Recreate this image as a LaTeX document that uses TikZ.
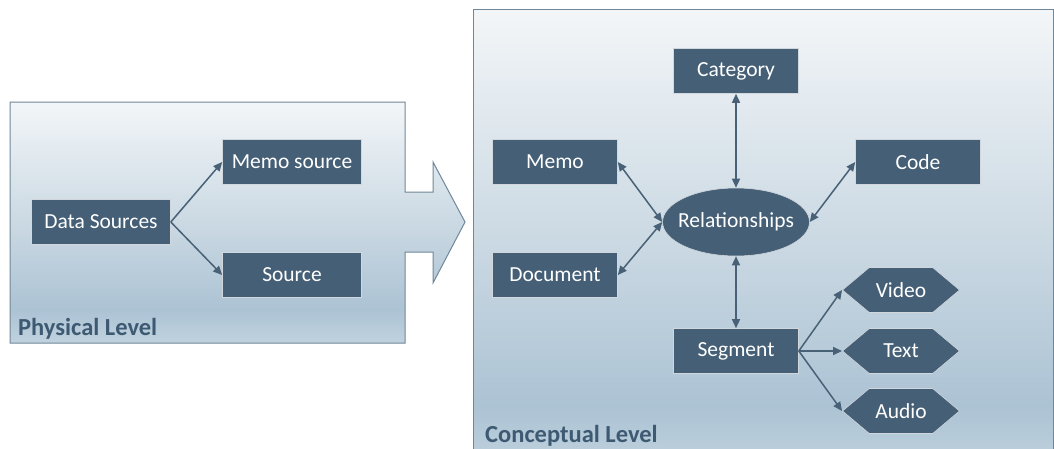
\documentclass[tikz,border=0pt]{standalone}
\usepackage{fontspec}
\setmainfont{Carlito}
\usetikzlibrary{positioning, arrows.meta, shapes.geometric, shapes.symbols}
\definecolor{boxcolor}{RGB}{69,95,118}
\definecolor{linecolor}{RGB}{72,97,118}
\definecolor{framecolor}{RGB}{112,135,153}
\definecolor{labelcolor}{RGB}{62,90,114}
\definecolor{shadetop}{RGB}{243,246,248}
\definecolor{shademid}{RGB}{203,217,227}
\definecolor{shadebot}{RGB}{172,195,212}
\definecolor{shadelow}{RGB}{192,210,222}
\pgfdeclareverticalshading{levelshade}{100bp}{color(0bp)=(shadelow); color(25bp)=(shadelow); color(32bp)=(shadebot); color(50bp)=(shademid); color(75bp)=(shadetop); color(100bp)=(shadetop)}

\tikzset{
    entity/.style={rectangle, fill=boxcolor, draw=white!75!boxcolor, line width=0.6pt, text=white,
        font=\fontsize{21.5}{25}\selectfont, minimum width=125pt, minimum height=45pt, inner sep=0pt},
    relation/.style={ellipse, fill=boxcolor, draw=white!75!boxcolor, line width=0.6pt, text=white,
        font=\fontsize{21.5}{25}\selectfont, minimum width=142pt, minimum height=68pt,
        inner ysep=0pt, inner xsep=-6pt},
    media/.style={signal, signal to=east and west, signal pointer angle=80, fill=boxcolor,
        draw=white!75!boxcolor, line width=0.6pt, text=white, font=\fontsize{21.5}{25}\selectfont,
        minimum width=117pt, minimum height=45pt, inner sep=0pt},
    levellabel/.style={text=labelcolor, font=\fontsize{24.5}{28}\selectfont\bfseries, inner sep=0pt},
    link/.style={draw=linecolor, line width=1.5pt, -{Triangle[length=9pt, width=8pt]}},
    biLink/.style={draw=linecolor, line width=1.5pt, {Triangle[length=9pt, width=8pt]}-{Triangle[length=9pt, width=8pt]}}
}

\begin{document}
\begin{tikzpicture}[x=1pt, y=-1pt]
    \useasboundingbox (0,0) rectangle (1054,448);
    \clip (0,0) rectangle (1054,448);

    % Niveau physique, avec la grosse flèche
    \shadedraw[shading=levelshade, draw=framecolor, line width=1pt]
        (10,102) -- (405,102) -- (405,192) -- (433,192) -- (433,162) -- (465,222)
        -- (433,283) -- (433,252) -- (405,252) -- (405,343) -- (10,343) -- cycle;
    \node[levellabel, anchor=base west] (physlabel) at (18,335) {Physical Level};

    \node[entity, minimum width=139pt] (datasrc) at (101,222) {Data Sources};
    \node[entity, minimum width=139pt] (memosrc) at (292,162) {Memo source};
    \node[entity, minimum width=139pt] (source) at (292,275) {Source};

    \draw[link] (datasrc.east) -- (memosrc.west);
    \draw[link] (datasrc.east) -- (source.west);

    % Niveau conceptuel
    \shadedraw[shading=levelshade, draw=framecolor, line width=1pt] (473,9) rectangle (1053,470);
    \node[levellabel, anchor=base west] (conclabel) at (485,442) {Conceptual Level};

    \node[relation] (rel) at (736,222) {Relationships};
    \node[entity] (category) at (736,71) {Category};
    \node[entity] (memo) at (555,162) {Memo};
    \node[entity] (code) at (918,162) {Code};
    \node[entity] (document) at (555,275) {Document};
    \node[entity] (segment) at (736,351) {Segment};
    \node[media] (video) at (901,290) {Video};
    \node[media] (text) at (901,351) {Text};
    \node[media] (audio) at (901,411) {Audio};

    \draw[biLink] (category) -- (rel);
    \draw[biLink] (memo.east) -- (rel.west);
    \draw[biLink] (document.east) -- (rel.west);
    \draw[biLink] (code.west) -- (rel.east);
    \draw[biLink] (rel) -- (segment);
    \draw[link] (segment.east) -- (video.west);
    \draw[link] (segment.east) -- (text.west);
    \draw[link] (segment.east) -- (audio.west);
\end{tikzpicture}
\end{document}
